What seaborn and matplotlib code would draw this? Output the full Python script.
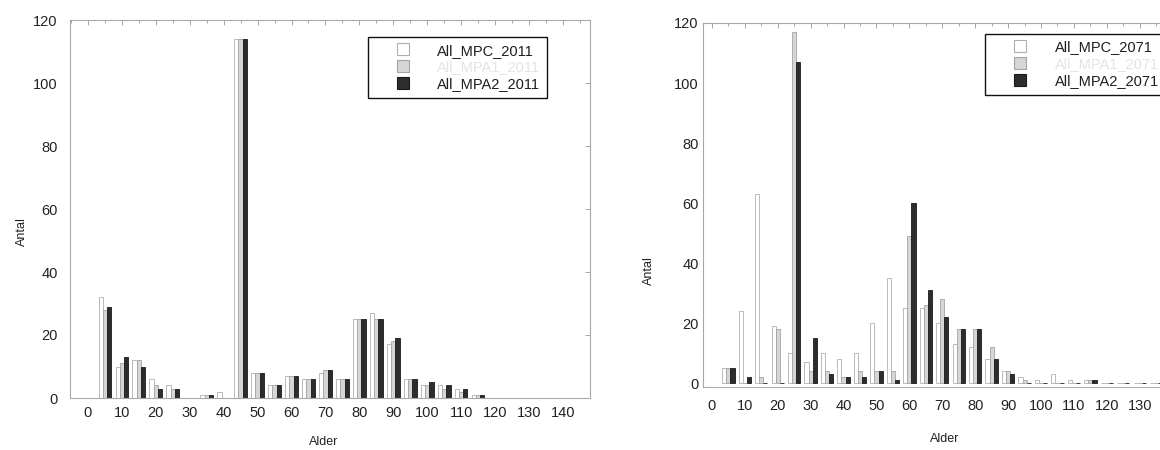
import numpy as np
import pandas as pd
import matplotlib
matplotlib.use("Agg")
import matplotlib.pyplot as plt
import seaborn as sns
from matplotlib.lines import Line2D
from matplotlib.ticker import MultipleLocator

# Age groups (5-year steps)
ages = list(range(5, 140, 5))

# Counts per age group, 2011
mpc_2011 = [32, 10, 12, 6, 4, 0, 1, 2, 114, 8, 4, 7, 6, 8, 6, 25, 27, 17, 6, 4, 4, 3, 1, 0, 0, 0, 0]
mpa1_2011 = [28, 11, 12, 4, 3, 0, 1, 0, 114, 8, 4, 7, 6, 9, 6, 25, 25, 18, 6, 4, 3, 2, 1, 0, 0, 0, 0]
mpa2_2011 = [29, 13, 10, 3, 3, 0, 1, 0, 114, 8, 4, 7, 6, 9, 6, 25, 25, 19, 6, 5, 4, 3, 1, 0, 0, 0, 0]

# Counts per age group, 2071
mpc_2071 = [5, 24, 63, 19, 10, 7, 10, 8, 10, 20, 35, 25, 25, 20, 13, 12, 8, 4, 2, 1, 3, 1, 1, 0, 0, 0, 0]
mpa1_2071 = [5, 0, 2, 18, 117, 4, 4, 2, 4, 4, 4, 49, 26, 28, 18, 18, 12, 4, 1, 0, 0, 0, 1, 0, 0, 0, 0]
mpa2_2071 = [5, 2, 0, 0, 107, 15, 3, 2, 2, 4, 1, 60, 31, 22, 18, 18, 8, 3, 0, 0, 0, 0, 1, 0, 0, 0, 0]

labels_2011 = ["All_MPC_2011", "All_MPA1_2011", "All_MPA2_2011"]
labels_2071 = ["All_MPC_2071", "All_MPA1_2071", "All_MPA2_2071"]

x_ticks_2011 = list(range(0, 150, 10))
x_ticks_2071 = list(range(0, 140, 10))
y_ticks = list(range(0, 140, 20))

sns.set_theme(style="white")
plt.rcParams["font.family"] = ["Liberation Sans", "DejaVu Sans"]

fills = ["#ffffff", "#d6d6d6", "#2d2d2d"]
edges = ["#b0b0b0", "#a4a4a4", "#1a1a1a"]
text_colors = ["#1e1e1e", "#e4e4e4", "#1e1e1e"]
frame_grey = "#a8a8a8"


def long_frame(series, labels):
    return pd.DataFrame({
        "Alder": ages * len(series),
        "Antal": [v for s in series for v in s],
        "serie": np.repeat(labels, len(ages)),
    })


def draw(ax, df, labels, xticks, xlim, ylim, xpad, ypad, ylab_pos, xlab_pos, leg_anchor):
    sns.barplot(data=df, x="Alder", y="Antal", hue="serie", hue_order=labels,
                palette=dict(zip(labels, fills)), native_scale=True, width=0.75,
                errorbar=None, saturation=1, linewidth=0.6, legend=False, ax=ax)
    for cont, ec in zip(ax.containers, edges):
        for p in cont:
            p.set_edgecolor(ec)
    ax.set_xlim(*xlim)
    ax.set_ylim(*ylim)
    ax.set_xticks(xticks)
    ax.set_yticks(y_ticks)
    ax.xaxis.set_minor_locator(MultipleLocator(5))
    ax.tick_params(which="both", direction="in", top=True, right=True,
                   color="#9a9a9a", width=0.6)
    ax.tick_params(which="major", length=3.5)
    ax.tick_params(which="minor", length=2)
    ax.tick_params(axis="x", labelsize=10.5, pad=xpad, labelcolor="#222222")
    ax.tick_params(axis="y", labelsize=10.5, pad=ypad, labelcolor="#222222")
    for s in ax.spines.values():
        s.set_color(frame_grey)
        s.set_linewidth(0.8)
    ax.set_xlabel("Alder", fontsize=9, color="#222222")
    ax.set_ylabel("Antal", fontsize=9, color="#222222")
    ax.xaxis.set_label_coords(*xlab_pos)
    ax.yaxis.set_label_coords(*ylab_pos)

    handles = [Line2D([], [], marker="s", linestyle="none", markersize=9,
                      markerfacecolor=f, markeredgecolor=e, markeredgewidth=0.8)
               for f, e in zip(fills, edges)]
    leg = ax.legend(handles, labels, loc="upper left", bbox_to_anchor=leg_anchor,
                    fontsize=10.5, frameon=True, fancybox=False, framealpha=1,
                    edgecolor="#111111", borderpad=0.45, labelspacing=0.2,
                    handlelength=3.9, handletextpad=0.4, borderaxespad=0)
    leg.get_frame().set_linewidth(1.0)
    for t, c in zip(leg.get_texts(), text_colors):
        t.set_color(c)


fig = plt.figure(figsize=(11.6, 4.5), dpi=100)
ax1 = fig.add_axes([70 / 1160, 52 / 450, 520 / 1160, 378 / 450])
ax2 = fig.add_axes([703 / 1160, 63 / 450, 496 / 1160, 364 / 450])

draw(ax1, long_frame([mpc_2011, mpa1_2011, mpa2_2011], labels_2011), labels_2011,
     xticks=x_ticks_2011, xlim=(-5.3, 148), ylim=(0, 120), xpad=6, ypad=9,
     ylab_pos=(-0.081, 0.44), xlab_pos=(0.487, -0.10), leg_anchor=(0.573, 0.955))
draw(ax2, long_frame([mpc_2071, mpa1_2071, mpa2_2071], labels_2071), labels_2071,
     xticks=x_ticks_2071, xlim=(-2.7, 148), ylim=(-1.3, 120), xpad=9, ypad=3,
     ylab_pos=(-0.097, 0.32), xlab_pos=(0.488, -0.125), leg_anchor=(0.569, 0.97))
ax2.xaxis.set_minor_locator(MultipleLocator(5))

fig.savefig("out.png", dpi=100)
